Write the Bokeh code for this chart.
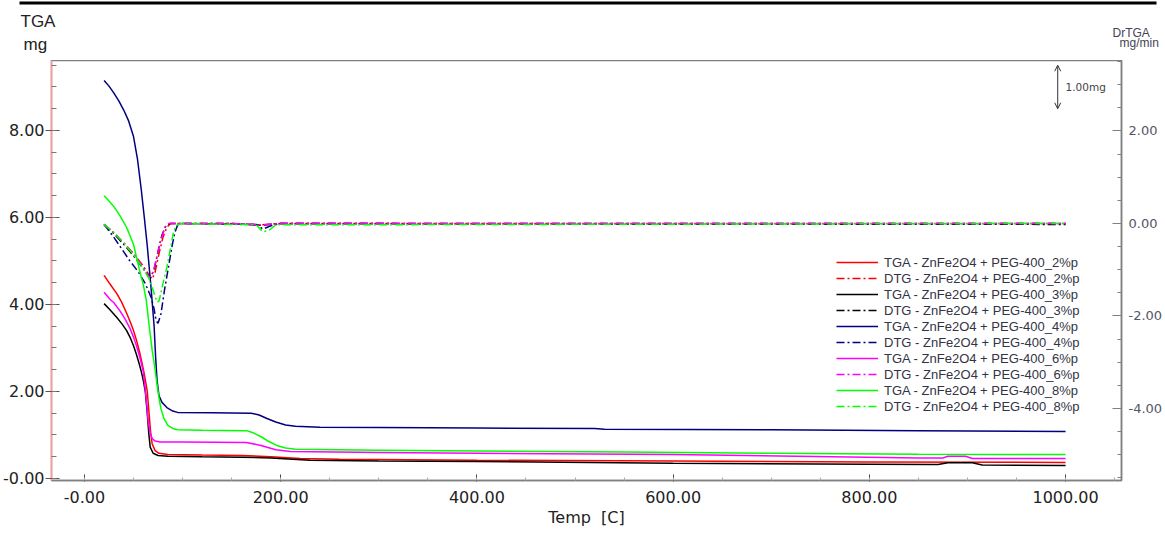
from bokeh.plotting import figure
from bokeh.layouts import column, row
from bokeh.models import (Range1d, LinearAxis, FixedTicker, NumeralTickFormatter, Label,
                          Legend, LegendItem, BoxAnnotation, Arrow, OpenHead)
from bokeh.embed import file_html
from bokeh.resources import INLINE

# ---- TGA mass curves (temperature in C, mass in mg) ----
tga_2_t = [20, 26, 33, 38, 43, 47, 50, 53, 56, 59, 61, 64, 66, 67.5, 69, 72, 76, 85,
           120, 160, 190, 220, 260, 400, 600, 800, 1000]
tga_2_m = [4.67, 4.47, 4.25, 4.05, 3.80, 3.58, 3.40, 3.18, 2.92, 2.62, 2.40, 2.00, 1.45, 1.05,
           0.80, 0.64, 0.58, 0.55, 0.54, 0.53, 0.50, 0.46, 0.44, 0.42, 0.40, 0.38, 0.37]

tga_3_t = [20, 26, 33, 38, 43, 47, 50, 53, 56, 58, 60, 62, 64, 65.5, 67, 70, 75, 85,
           120, 160, 190, 230, 300, 400, 600, 800, 870, 880, 905, 915, 1000]
tga_3_m = [4.02, 3.88, 3.70, 3.56, 3.40, 3.22, 3.05, 2.85, 2.62, 2.45, 2.25, 2.00, 1.50, 1.05,
           0.72, 0.58, 0.53, 0.51, 0.50, 0.49, 0.47, 0.42, 0.40, 0.39, 0.35, 0.33, 0.32, 0.36,
           0.36, 0.31, 0.30]

tga_4_t = [20, 25, 30, 35, 40, 45, 50, 54, 58, 61, 64, 66, 68, 71, 72.5, 74, 76, 79, 84, 90,
           95, 130, 170, 178, 186, 195, 205, 215, 240, 300, 400, 520, 530, 700, 850, 1000]
tga_4_m = [9.15, 9.02, 8.86, 8.68, 8.47, 8.22, 7.86, 7.35, 6.62, 6.00, 5.35, 4.85, 4.35, 3.50,
           2.80, 2.25, 1.90, 1.75, 1.63, 1.55, 1.52, 1.51, 1.50, 1.46, 1.38, 1.30, 1.23, 1.20,
           1.18, 1.17, 1.16, 1.15, 1.13, 1.12, 1.10, 1.08]

tga_6_t = [20, 26, 30, 36, 41, 46, 50, 53, 56, 58, 60, 62, 63.5, 65, 67, 69, 72, 77, 100, 165,
           180, 195, 210, 300, 400, 600, 850, 875, 880, 898, 905, 1000]
tga_6_m = [4.28, 4.12, 4.04, 3.86, 3.68, 3.47, 3.25, 3.05, 2.82, 2.65, 2.45, 2.05, 1.70, 1.30,
           1.05, 0.92, 0.86, 0.84, 0.84, 0.83, 0.76, 0.66, 0.62, 0.60, 0.58, 0.55, 0.47, 0.47,
           0.51, 0.51, 0.46, 0.46]

tga_8_t = [20, 25, 30, 36, 43, 50, 56, 60, 63, 66, 69, 72, 74, 76, 78, 81, 85, 90, 95, 120,
           165, 172, 180, 188, 196, 205, 215, 300, 400, 550, 700, 850, 1000]
tga_8_m = [6.50, 6.38, 6.25, 6.05, 5.77, 5.38, 4.80, 4.45, 4.10, 3.50, 2.95, 2.50, 2.15, 1.85,
           1.60, 1.38, 1.22, 1.15, 1.12, 1.11, 1.10, 1.05, 0.96, 0.85, 0.76, 0.70, 0.67, 0.65,
           0.63, 0.61, 0.58, 0.56, 0.55]

# ---- DTG curves (temperature in C, rate in mg/min) ----
dtg_2_t = [20, 30, 40, 50, 60, 66, 69, 72, 76, 80, 84, 88, 150, 180, 200, 1000]
dtg_2_v = [-0.02, -0.20, -0.42, -0.65, -0.92, -1.12, -1.20, -1.05, -0.65, -0.30, -0.08, 0.0,
           0.0, -0.03, 0.0, 0.0]

dtg_3_t = [20, 30, 40, 50, 60, 67, 71, 75, 79, 83, 87, 150, 180, 200, 1000]
dtg_3_v = [-0.03, -0.22, -0.45, -0.70, -0.98, -1.18, -1.00, -0.60, -0.25, -0.05, 0.0, 0.0,
           -0.04, 0.0, -0.02]

dtg_4_t = [20, 30, 38, 46, 55, 62, 68, 71, 73, 75, 78, 82, 86, 89, 92, 95, 100, 175, 182,
           190, 200, 1000]
dtg_4_v = [-0.02, -0.30, -0.55, -0.80, -1.05, -1.30, -1.60, -1.85, -2.10, -2.16, -1.95, -1.38,
           -0.90, -0.52, -0.20, -0.03, 0.0, -0.02, -0.12, -0.05, 0.0, 0.0]

dtg_6_t = [20, 30, 40, 50, 60, 66, 70, 74, 78, 82, 86, 150, 180, 200, 1000]
dtg_6_v = [-0.02, -0.20, -0.42, -0.66, -0.95, -1.17, -1.05, -0.70, -0.35, -0.08, 0.0, 0.0,
           -0.03, 0.0, 0.0]

dtg_8_t = [20, 30, 40, 50, 60, 66, 70, 74, 76, 80, 84, 88, 91, 95, 100, 175, 182, 188, 195, 1000]
dtg_8_v = [-0.02, -0.20, -0.42, -0.68, -0.98, -1.20, -1.45, -1.70, -1.68, -1.30, -0.95, -0.50,
           -0.15, -0.02, 0.0, -0.03, -0.18, -0.15, -0.03, 0.0]

series_names = ["2%p", "3%p", "4%p", "6%p", "8%p"]
series_colors = ["#ff0000", "#000000", "#000080", "#ff00ff", "#00ff00"]

tga_t = [tga_2_t, tga_3_t, tga_4_t, tga_6_t, tga_8_t]
tga_m = [tga_2_m, tga_3_m, tga_4_m, tga_6_m, tga_8_m]
dtg_t = [dtg_2_t, dtg_3_t, dtg_4_t, dtg_6_t, dtg_8_t]
dtg_v = [dtg_2_v, dtg_3_v, dtg_4_v, dtg_6_v, dtg_8_v]

left_ticks = [0, 2, 4, 6, 8]
right_ticks = [-4, -2, 0, 2]
x_ticks = [0, 200, 400, 600, 800, 1000]

FONT = "Liberation Sans"
NUM_FONT = "DejaVu Sans"
W = 1165
HEAD_H = 60
MAIN_H = 534 - HEAD_H

# ---- header strip: top rule and the two axis unit captions ----
head = figure(width=W, height=HEAD_H, output_backend="svg", toolbar_location=None,
              x_range=Range1d(0, W), y_range=Range1d(HEAD_H, 0),
              x_axis_location=None, y_axis_location=None,
              min_border=0, outline_line_color=None,
              background_fill_color="white", border_fill_color="white")
head.grid.visible = False
head.add_layout(BoxAnnotation(left=19, right=1156, top=1, bottom=4,
                              fill_color="black", fill_alpha=1, line_color=None))
head.add_layout(Label(x=20, y=30, text="TGA", text_font=FONT, text_font_size="17px",
                      text_color="#222222"))
head.add_layout(Label(x=23, y=53, text="mg", text_font=FONT, text_font_size="17px",
                      text_color="#222222"))
head.add_layout(Label(x=1112, y=39, text="DrTGA", text_font=FONT, text_font_size="12px",
                      text_color="#444455"))
head.add_layout(Label(x=1119, y=49, text="mg/min", text_font=FONT, text_font_size="12px",
                      text_color="#444455"))

# ---- main plot ----
p = figure(width=W, height=MAIN_H, output_backend="svg", toolbar_location=None,
           x_range=Range1d(-33.6, 1057.0), y_range=Range1d(-0.046, 9.609),
           min_border_left=50, min_border_right=44, min_border_top=0, min_border_bottom=54,
           background_fill_color="white", border_fill_color="white")
p.grid.visible = False
p.outline_line_color = "#808080"
p.outline_line_width = 1.5

p.extra_y_ranges = {"dtg": Range1d(-5.557, 3.524)}

# left mass axis
ya = p.yaxis[0]
ya.ticker = FixedTicker(ticks=left_ticks, minor_ticks=[i * 0.5 for i in range(0, 20)])
ya.formatter = NumeralTickFormatter(format="0.00")
ya.major_label_overrides = {0: "-0.00"}
ya.axis_line_color = "#ff9a9a"
ya.axis_line_width = 1.5
ya.major_tick_line_color = "#555555"
ya.minor_tick_line_color = "#777777"
ya.major_tick_in = 8
ya.major_tick_out = 6
ya.minor_tick_in = 5
ya.minor_tick_out = 0
ya.major_label_standoff = 1
ya.major_label_text_font = NUM_FONT
ya.major_label_text_font_size = "16px"
ya.major_label_text_color = "#222222"

# bottom temperature axis
xa = p.xaxis[0]
xa.ticker = FixedTicker(ticks=x_ticks, minor_ticks=list(range(-50, 1100, 50)))
xa.formatter = NumeralTickFormatter(format="0.00")
xa.major_label_overrides = {0: "-0.00"}
xa.axis_line_color = "#808080"
xa.axis_line_width = 1.5
xa.major_tick_line_color = "#444444"
xa.minor_tick_line_color = "#aaaaaa"
xa.major_tick_in = 6
xa.major_tick_out = 1
xa.minor_tick_in = 3
xa.minor_tick_out = 0
xa.major_label_standoff = 9
xa.major_label_text_font = NUM_FONT
xa.major_label_text_font_size = "16px"
xa.major_label_text_color = "#222222"
xa.axis_label = "Temp\u00a0\u00a0[C]"
xa.axis_label_standoff = 2
xa.axis_label_text_font = NUM_FONT
xa.axis_label_text_font_size = "16px"
xa.axis_label_text_font_style = "normal"
xa.axis_label_text_color = "#222222"

# right rate axis
ra = LinearAxis(y_range_name="dtg",
                ticker=FixedTicker(ticks=right_ticks,
                                   minor_ticks=[-5.5 + i * 0.5 for i in range(0, 19)]),
                formatter=NumeralTickFormatter(format="0.00"))
ra.axis_line_color = "#808080"
ra.axis_line_width = 1.5
ra.major_tick_line_color = "#808080"
ra.minor_tick_line_color = "#808080"
ra.major_tick_in = 9
ra.major_tick_out = 0
ra.minor_tick_in = 4
ra.minor_tick_out = 0
ra.major_label_standoff = 7
ra.major_label_text_font = NUM_FONT
ra.major_label_text_font_size = "13px"
ra.major_label_text_color = "#555566"
p.add_layout(ra, "right")

items = []
for name, color, tt, mm, dt, dv in zip(series_names, series_colors, tga_t, tga_m, dtg_t, dtg_v):
    r_tga = p.line(tt, mm, line_color=color, line_width=1.5)
    r_dtg = p.line(dt, dv, line_color=color, line_width=1.5, line_dash="8 3 2 3",
                   y_range_name="dtg")
    items.append(LegendItem(label="TGA - ZnFe2O4 + PEG-400_" + name, renderers=[r_tga]))
    items.append(LegendItem(label="DTG - ZnFe2O4 + PEG-400_" + name, renderers=[r_dtg]))

legend = Legend(items=items, location=(785, 66), border_line_color=None,
                background_fill_alpha=0, padding=0, margin=0, spacing=0,
                label_height=16, glyph_height=16, glyph_width=42, label_standoff=6,
                label_text_font=FONT, label_text_font_size="13px",
                label_text_color="#333344")
p.add_layout(legend)

# 1 mg scale marker
p.add_layout(Arrow(start=OpenHead(size=6, line_color="#333333", line_width=1),
                   end=OpenHead(size=6, line_color="#333333", line_width=1),
                   x_start=992, y_start=8.5, x_end=992, y_end=9.5,
                   line_color="#333333", line_width=1))
p.add_layout(Label(x=1000, y=9.0, text="1.00mg", text_font=NUM_FONT, text_font_size="10.5px",
                   text_color="#444444", text_baseline="middle"))

# the header sits in its own row so its frame keeps the full page width
page = column(row(head, spacing=0), p, spacing=0)
open("out.html", "w").write(file_html(page, INLINE))
